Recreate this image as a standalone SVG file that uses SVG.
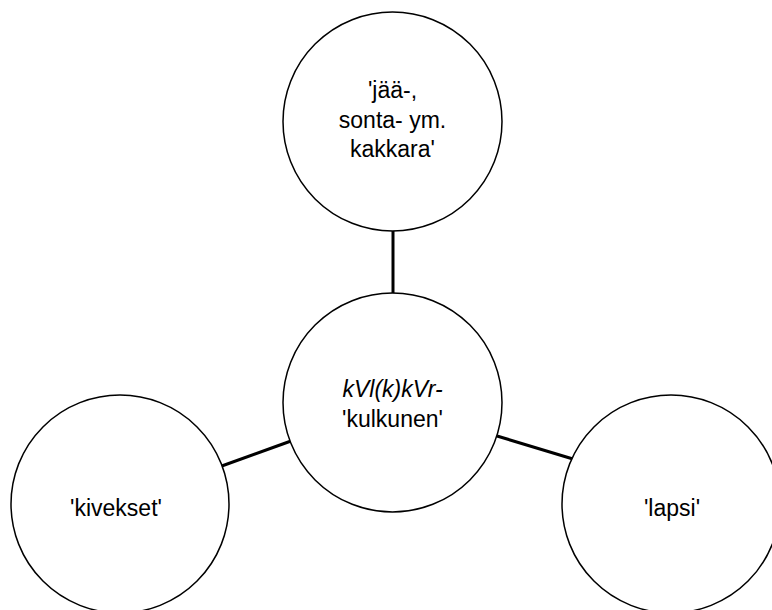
<svg xmlns="http://www.w3.org/2000/svg" width="772" height="610" viewBox="0 0 772 610">
<style>
.node{fill:#fff;stroke:#000;stroke-width:1.5}
.edge{stroke:#000;stroke-width:3;fill:none}
text{font-family:"Liberation Sans",Arial,sans-serif;font-size:23px;fill:#000;text-anchor:middle}
.it{font-style:italic}
</style>
<rect width="772" height="610" fill="#fff"/>
<g id="connectors">
<line class="edge" x1="393" y1="231" x2="393" y2="294"/>
<line class="edge" x1="219" y1="467" x2="291" y2="441"/>
<line class="edge" x1="497" y1="436" x2="573" y2="459"/>
</g>
<g id="top">
<circle class="node" cx="392.5" cy="121.5" r="109.5"/>
<text x="392.5" y="98">'jää-,</text>
<text x="392.5" y="128">sonta- ym.</text>
<text x="392.5" y="157">kakkara'</text>
</g>
<g id="center">
<circle class="node" cx="392.5" cy="402.5" r="109.5"/>
<text class="it" x="392.5" y="397">kVl(k)kVr-</text>
<text x="392.5" y="427">'kulkunen'</text>
</g>
<g id="left">
<circle class="node" cx="120" cy="504" r="109"/>
<text x="116" y="516">'kivekset'</text>
</g>
<g id="right">
<circle class="node" cx="671" cy="504" r="109"/>
<text x="672" y="516">'lapsi'</text>
</g>
</svg>
